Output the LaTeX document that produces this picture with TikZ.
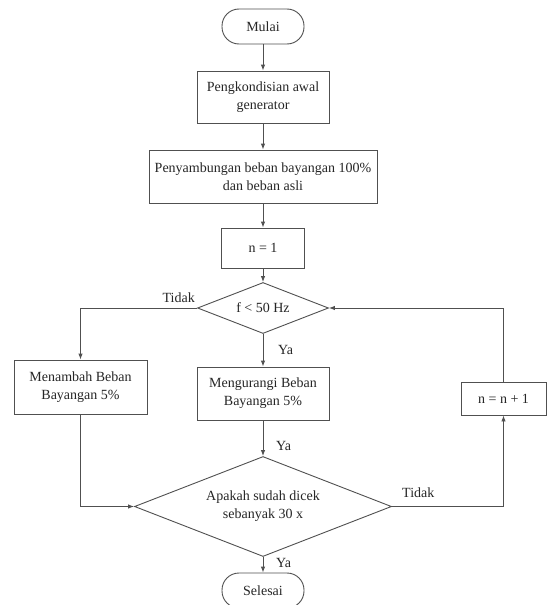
\documentclass[tikz,border=0pt]{standalone}
\usepackage{fontspec}
\setmainfont{Liberation Serif}
\usetikzlibrary{shapes.geometric,arrows.meta}
\definecolor{ln}{HTML}{505050}
\definecolor{tx}{HTML}{262626}
\tikzset{
  base/.style={draw=ln,line width=0.9pt,text=tx,align=center,inner sep=0pt,font=\fontsize{14}{18}\selectfont},
  term/.style={base,rounded corners=17pt,minimum width=82pt,minimum height=35pt},
  proc/.style={base,rectangle},
  dec/.style={base,diamond,shape aspect=2.57},
  conn/.style={draw=ln,line width=0.9pt,-{Latex[length=6pt,width=4.5pt]}},
  lbl/.style={text=tx,inner sep=0pt,font=\fontsize{14}{18}\selectfont}
}
\begin{document}
\begin{tikzpicture}[x=1pt,y=-1pt]
\clip (0,0) rectangle (547,605);
\fill[white] (0,0) rectangle (547,605);
\node[term] (mulai) at (263,26.5) {Mulai};
\node[proc,minimum width=132pt,minimum height=52pt] (kond) at (263,97) {Pengkondisian awal\\generator};
\node[proc,minimum width=228pt,minimum height=53pt] (samb) at (263,176.5) {Penyambungan beban bayangan 100\%\\dan beban asli};
\node[proc,minimum width=83pt,minimum height=40pt] (n1) at (263,248) {n = 1};
\node[dec,minimum width=131pt,minimum height=51pt] (d1) at (263,308) {f < 50 Hz};
\node[proc,minimum width=133pt,minimum height=54pt] (tambah) at (80.5,387) {Menambah Beban\\Bayangan 5\%};
\node[proc,minimum width=132pt,minimum height=53pt] (kurang) at (263,393.5) {Mengurangi Beban\\Bayangan 5\%};
\node[proc,minimum width=85pt,minimum height=33pt] (nn) at (503.5,398.5) {n = n + 1};
\node[dec,minimum width=257pt,minimum height=100pt] (d2) at (263,506.5) {Apakah sudah dicek\\sebanyak 30 x};
\node[term] (selesai) at (263,590.5) {Selesai};

\draw[conn] (mulai) -- (kond);
\draw[conn] (kond) -- (samb);
\draw[conn] (samb) -- (n1);
\draw[conn] (n1) -- (d1);
\draw[conn] (d1.west) -| (tambah.north);
\draw[conn] (d1) -- (kurang);
\draw[conn] (kurang) -- (d2);
\draw[conn] (tambah.south) |- (d2.west);
\draw[conn] (d2.east) -| (nn.south);
\draw[conn] (nn.north) |- (d1.east);
\draw[conn] (d2) -- (selesai);

\node[lbl,anchor=east] (t1) at (195,298) {Tidak};
\node[lbl,anchor=west] (y1) at (278,350) {Ya};
\node[lbl,anchor=west] (y2) at (276,446) {Ya};
\node[lbl,anchor=west] (t2) at (402,493) {Tidak};
\node[lbl,anchor=west] (y3) at (276,563) {Ya};
\end{tikzpicture}
\end{document}
